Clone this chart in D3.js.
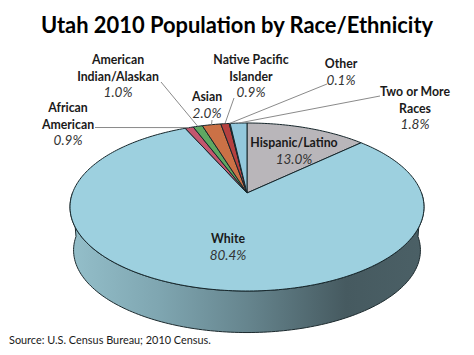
<!DOCTYPE html>
<html>
<head>
<meta charset="utf-8">
<script src="https://cdn.jsdelivr.net/npm/d3@7"></script>
<style>
body { margin: 0; background: #fff; }
text { font-family: Lato, "Open Sans", sans-serif; fill: #1a1a1a; }
.lab { font-weight: 700; font-size: 12.3px; text-anchor: middle; }
.pct { font-style: italic; font-size: 13.5px; text-anchor: middle; fill: #333; }
</style>
</head>
<body>
<div id="chart"></div>
<script>
// data, clockwise from 12 o'clock
var categories = ["Hispanic/Latino", "White", "African American", "American Indian/Alaskan", "Asian", "Native Pacific Islander", "Other", "Two or More Races"];
var shares = [13.0, 80.4, 0.9, 1.0, 2.0, 0.9, 0.1, 1.8];
var shareLabels = ["13.0%", "80.4%", "0.9%", "1.0%", "2.0%", "0.9%", "0.1%", "1.8%"];
var labelLines = [["Hispanic/Latino"], ["White"], ["African", "American"], ["American", "Indian/Alaskan"], ["Asian"], ["Native Pacific", "Islander"], ["Other"], ["Two or More", "Races"]];
var colors = ["#b9b6ba", "#9dd0df", "#c4566e", "#5fa862", "#cb7146", "#b5403f", "#3c3c3c", "#93c8dc"];

// label placement: centre x, first baseline
var labelPos = [[294, 147], [228, 243], [68, 112], [118, 64], [207, 101], [251, 64], [341, 68], [415, 96]];
// where the leader leaves the label (null = no leader)
var leaderStart = [null, null, [95, 127.5], [161, 82], [212, 120], [234, 98], [327, 84], [380, 96]];

var width = 474, height = 355, lineH = 16.5;

var svg = d3.select("#chart").append("svg")
    .attr("width", width)
    .attr("height", height);

var defs = svg.append("defs");
var grad = defs.append("linearGradient").attr("id", "sideGrad");
grad.append("stop").attr("offset", "0%").attr("stop-color", "#94bfca");
grad.append("stop").attr("offset", "25%").attr("stop-color", "#7fa6b1");
grad.append("stop").attr("offset", "50%").attr("stop-color", "#66858e");
grad.append("stop").attr("offset", "78%").attr("stop-color", "#465a60");
grad.append("stop").attr("offset", "100%").attr("stop-color", "#4b6066");

// tilted disc: perspective map of the unit circle onto the page
var apex = [247, 193], sx = 174.5, sy = 81.67, k = 1 / 6;
function project(a, r, dy, scale) {
    var x = Math.sin(a) * (r === undefined ? 1 : r),
        y = -Math.cos(a) * (r === undefined ? 1 : r),
        w = 1 - k * y,
        s = scale || 1;
    return [apex[0] + s * sx * x / w, apex[1] + (dy || 0) + s * sy * y / w];
}

var line = d3.line();

function arcPoints(a0, a1, dy, scale) {
    var n = Math.max(2, Math.ceil(Math.abs(a1 - a0) / 0.02));
    return d3.range(n + 1).map(function(i) {
        return project(a0 + (a1 - a0) * i / n, 1, dy, scale);
    });
}

var arcs = d3.pie().sort(null).value(function(d) { return d; })(shares);

// side wall (front half, top rim forward then bottom rim back)
var sideTop = arcPoints(Math.PI * 0.5, Math.PI * 1.5);
var sideBottom = arcPoints(Math.PI * 1.5, Math.PI * 0.5, 43.5, 0.98);
svg.append("path")
    .attr("d", line(sideTop.concat(sideBottom)) + "Z")
    .attr("fill", "url(#sideGrad)")
    .attr("stroke", "#1c2a2e")
    .attr("stroke-width", 1);

// top of the pie
svg.append("g").selectAll("path")
    .data(arcs)
    .enter()
    .append("path")
    .attr("d", function(d) {
        return line([apex].concat(arcPoints(d.startAngle, d.endAngle))) + "Z";
    })
    .attr("fill", function(d, i) { return colors[i]; })
    .attr("stroke", "#16262b")
    .attr("stroke-width", 1)
    .attr("stroke-linejoin", "round");

// leader lines
svg.append("g").selectAll("line")
    .data(arcs.filter(function(d, i) { return leaderStart[i]; }))
    .enter()
    .append("line")
    .attr("x1", function(d) { return leaderStart[d.index][0]; })
    .attr("y1", function(d) { return leaderStart[d.index][1]; })
    .attr("x2", function(d) { return project((d.startAngle + d.endAngle) / 2)[0]; })
    .attr("y2", function(d) { return project((d.startAngle + d.endAngle) / 2)[1]; })
    .attr("stroke", "#8a8a8a")
    .attr("stroke-width", 1);

// labels
var labels = svg.append("g").selectAll("g")
    .data(categories)
    .enter()
    .append("g");

labels.each(function(d, i) {
    var g = d3.select(this), pos = labelPos[i];
    labelLines[i].forEach(function(t, j) {
        g.append("text")
            .attr("class", "lab")
            .attr("x", pos[0])
            .attr("y", pos[1] + j * lineH)
            .text(t);
    });
    g.append("text")
        .attr("class", "pct")
        .attr("x", pos[0])
        .attr("y", pos[1] + labelLines[i].length * lineH)
        .text(shareLabels[i]);
});

// title and source
svg.append("text")
    .attr("x", 237)
    .attr("y", 33)
    .attr("text-anchor", "middle")
    .style("font-size", "21.9px")
    .style("font-weight", 700)
    .style("fill", "#000")
    .text("Utah 2010 Population by Race/Ethnicity");

svg.append("text")
    .attr("x", 9)
    .attr("y", 344)
    .style("font-size", "10.9px")
    .text("Source: U.S. Census Bureau; 2010 Census.");
</script>
</body>
</html>
